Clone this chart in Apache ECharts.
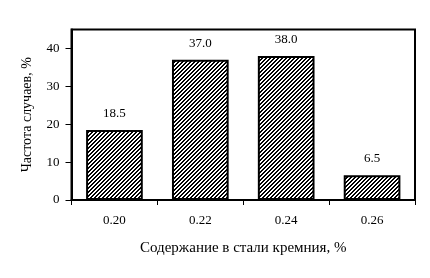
<!DOCTYPE html>
<html><head><meta charset="utf-8">
<script src="https://cdn.jsdelivr.net/npm/echarts@6/dist/echarts.min.js"></script>
<style>html,body{margin:0;padding:0;background:#fff}#c{width:430px;height:278px}</style>
</head><body><div id="c"></div>
<script>
const categories = ['0.20', '0.22', '0.24', '0.26'];
const values = [18.5, 37.0, 38.0, 6.5];
const xName = 'Содержание в стали кремния, %';
const yName = 'Частота случаев, %';

function hatch() {
  const c = document.createElement('canvas');
  c.width = 4; c.height = 4;
  const ctx = c.getContext('2d');
  ctx.fillStyle = '#fff'; ctx.fillRect(0, 0, 4, 4);
  ctx.fillStyle = '#000';
  for (let y = 0; y < 4; y++) {
    ctx.fillRect((3 - y + 4) % 4, y, 1, 1);
    ctx.fillRect((4 - y + 4) % 4, y, 1, 1);
  }
  return c;
}
const font = 'Liberation Serif, Times New Roman, serif';
const chart = echarts.init(document.getElementById('c'), null, {renderer: 'canvas'});
chart.setOption({
  animation: false,
  backgroundColor: '#fff',
  textStyle: {fontFamily: font},
  grid: {left: 71.5, right: 15, top: 29.5, bottom: 78, show: true, borderColor: '#000', borderWidth: 2, containLabel: false},
  xAxis: {
    type: 'category', data: categories,
    name: xName, nameLocation: 'middle', nameGap: 41,
    nameTextStyle: {fontFamily: font, fontSize: 15, color: '#000'},
    axisLine: {lineStyle: {color: '#000', width: 2}},
    axisTick: {show: true, length: 5, lineStyle: {color: '#000', width: 1}, alignWithLabel: false},
    axisLabel: {fontFamily: font, fontSize: 13, color: '#000', margin: 14}
  },
  yAxis: {
    type: 'value', min: 0, max: 45, interval: 10,
    name: yName, nameLocation: 'middle', nameGap: 37,
    nameTextStyle: {fontFamily: font, fontSize: 14, color: '#000'},
    axisLine: {show: true, lineStyle: {color: '#000', width: 2}},
    axisTick: {show: true, length: 6, lineStyle: {color: '#000', width: 1}},
    axisLabel: {fontFamily: font, fontSize: 13, color: '#000', margin: 12, showMaxLabel: false},
    splitLine: {show: false}
  },
  series: [{
    type: 'bar', data: values, barWidth: '66%',
    itemStyle: {color: {image: hatch(), repeat: 'repeat'}, borderColor: '#000', borderWidth: 2},
    label: {show: true, position: 'top', distance: 10, formatter: p => p.value.toFixed(1),
      fontFamily: font, fontSize: 13, color: '#000'}
  }]
});
</script></body></html>
